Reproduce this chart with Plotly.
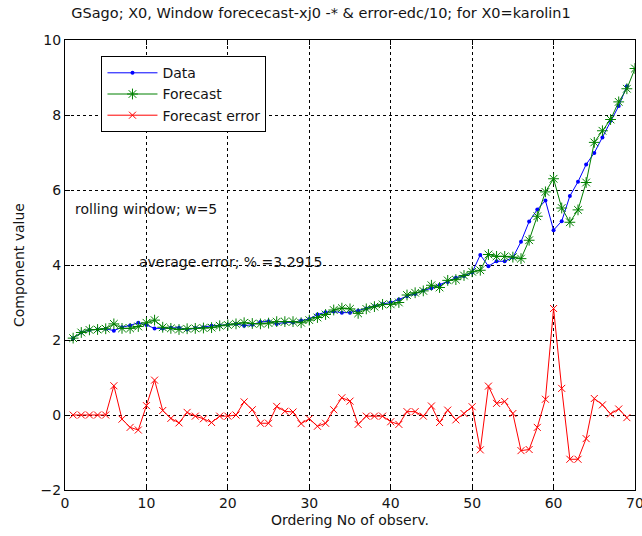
import plotly.graph_objects as go

x_data = list(range(1, 70))
data_vals = [2.05, 2.20, 2.27, 2.28, 2.30, 2.25, 2.34, 2.39, 2.46, 2.40,
             2.31, 2.31, 2.33, 2.33, 2.28, 2.32, 2.34, 2.38, 2.39, 2.41,
             2.43, 2.38, 2.41, 2.48, 2.50, 2.43, 2.47, 2.47, 2.52, 2.56,
             2.68, 2.74, 2.76, 2.73, 2.73, 2.78, 2.84, 2.90, 2.96, 3.00,
             3.08, 3.17, 3.23, 3.32, 3.38, 3.47, 3.55, 3.66, 3.71, 3.80,
             4.27, 3.97, 4.10, 4.10, 4.20, 4.62, 5.16, 5.48, 5.72, 4.93,
             5.17, 5.84, 6.22, 6.68, 6.99, 7.40, 7.85, 8.24, 8.77]

x_fc = list(range(1, 71))
forecast_vals = [2.05, 2.20, 2.27, 2.28, 2.30, 2.43, 2.31, 2.31, 2.36, 2.46,
                 2.53, 2.34, 2.31, 2.28, 2.30, 2.31, 2.32, 2.33, 2.38, 2.40,
                 2.43, 2.46, 2.44, 2.43, 2.45, 2.49, 2.49, 2.49, 2.46, 2.53,
                 2.60, 2.68, 2.80, 2.85, 2.83, 2.71, 2.83, 2.89, 2.95, 2.95,
                 3.00, 3.20, 3.26, 3.31, 3.46, 3.40, 3.59, 3.61, 3.72, 3.82,
                 3.86, 4.28, 4.23, 4.23, 4.21, 4.17, 4.66, 5.30, 5.95, 6.30,
                 5.52, 5.14, 5.47, 6.20, 7.27, 7.58, 7.88, 8.35, 8.70, 9.24]

x_err = list(range(1, 70))
error_vals = [0, 0, 0, 0, 0, 0.78, -0.11, -0.33, -0.40, 0.25,
              0.93, 0.12, -0.09, -0.21, 0.07, -0.03, -0.10, -0.20, -0.03, -0.03,
              0.00, 0.35, 0.14, -0.22, -0.22, 0.23, 0.10, 0.08, -0.23, -0.10,
              -0.30, -0.22, 0.14, 0.46, 0.37, -0.25, -0.03, -0.03, -0.03, -0.18,
              -0.25, 0.09, 0.09, -0.03, 0.24, -0.20, 0.13, -0.13, 0.04, 0.22,
              -0.93, 0.77, 0.31, 0.36, 0.04, -0.95, -0.92, -0.33, 0.42, 2.84,
              0.71, -1.18, -1.18, -0.63, 0.44, 0.27, 0.03, 0.16, -0.07]

x_ticks = [0, 10, 20, 30, 40, 50, 60, 70]
y_ticks = [-2, 0, 2, 4, 6, 8, 10]

font_family = "DejaVu Sans, sans-serif"
ink = "rgb(20,20,20)"

fig = go.Figure()
fig.add_trace(go.Scatter(
    x=x_data, y=data_vals, name="Data", mode="lines+markers",
    line=dict(color="rgb(0,0,255)", width=1),
    marker=dict(symbol="circle", size=4, color="rgb(0,0,255)")))
fig.add_trace(go.Scatter(
    x=x_fc, y=forecast_vals, name="Forecast", mode="lines+markers",
    line=dict(color="rgb(0,128,0)", width=1),
    marker=dict(symbol="asterisk-open", size=9,
                line=dict(color="rgb(0,128,0)", width=1))))
fig.add_trace(go.Scatter(
    x=x_err, y=error_vals, name="Forecast error", mode="lines+markers",
    line=dict(color="rgb(255,0,0)", width=1),
    marker=dict(symbol="x-thin-open", size=7,
                line=dict(color="rgb(255,0,0)", width=1))))

axis_common = dict(
    showline=True, linecolor="black", linewidth=1, mirror="allticks",
    ticks="inside", ticklen=5, tickcolor="black",
    showgrid=True, gridcolor="black", gridwidth=1, griddash="3px,3px",
    zeroline=False, automargin=False, ticklabeloverflow="allow",
    tickfont=dict(size=14, color=ink, family=font_family),
)

fig.update_xaxes(range=[0, 70], tickvals=x_ticks,
                 title=dict(text="Ordering No of observ.", font=dict(size=14, color=ink, family=font_family), standoff=5),
                 **axis_common)
fig.update_yaxes(range=[-2, 10], tickvals=y_ticks,
                 title=dict(text="Component value", font=dict(size=14, color=ink, family=font_family), standoff=12),
                 **axis_common)

fig.add_annotation(x=1.0, y=5.5, xref="x", yref="y", text="rolling window; w=5",
                   showarrow=False, xanchor="left", yanchor="middle",
                   font=dict(size=14, color=ink, family=font_family))
fig.add_annotation(x=8.9, y=4.08, xref="x", yref="y", text="average error; % =3.2915",
                   showarrow=False, xanchor="left", yanchor="middle",
                   font=dict(size=14, color=ink, family=font_family))

fig.update_layout(
    width=642, height=536,
    margin=dict(l=65, r=7, t=40, b=46),
    paper_bgcolor="white", plot_bgcolor="white",
    title=dict(text="GSago; X0, Window forececast-xj0 -* & error-edc/10; for X0=karolin1",
               x=0.5, xanchor="center", y=0.975, yanchor="middle",
               font=dict(size=14.5, color=ink, family=font_family)),
    legend=dict(x=0.064, y=0.964, xanchor="left", yanchor="top",
                bgcolor="white", bordercolor="black", borderwidth=1,
                font=dict(size=14, color=ink, family=font_family),
                itemwidth=50, tracegroupgap=0),
    showlegend=True,
)

fig.write_html("out.html", config={"displayModeBar": False},
               post_script="document.body.style.margin='0';document.body.style.padding='0';")
